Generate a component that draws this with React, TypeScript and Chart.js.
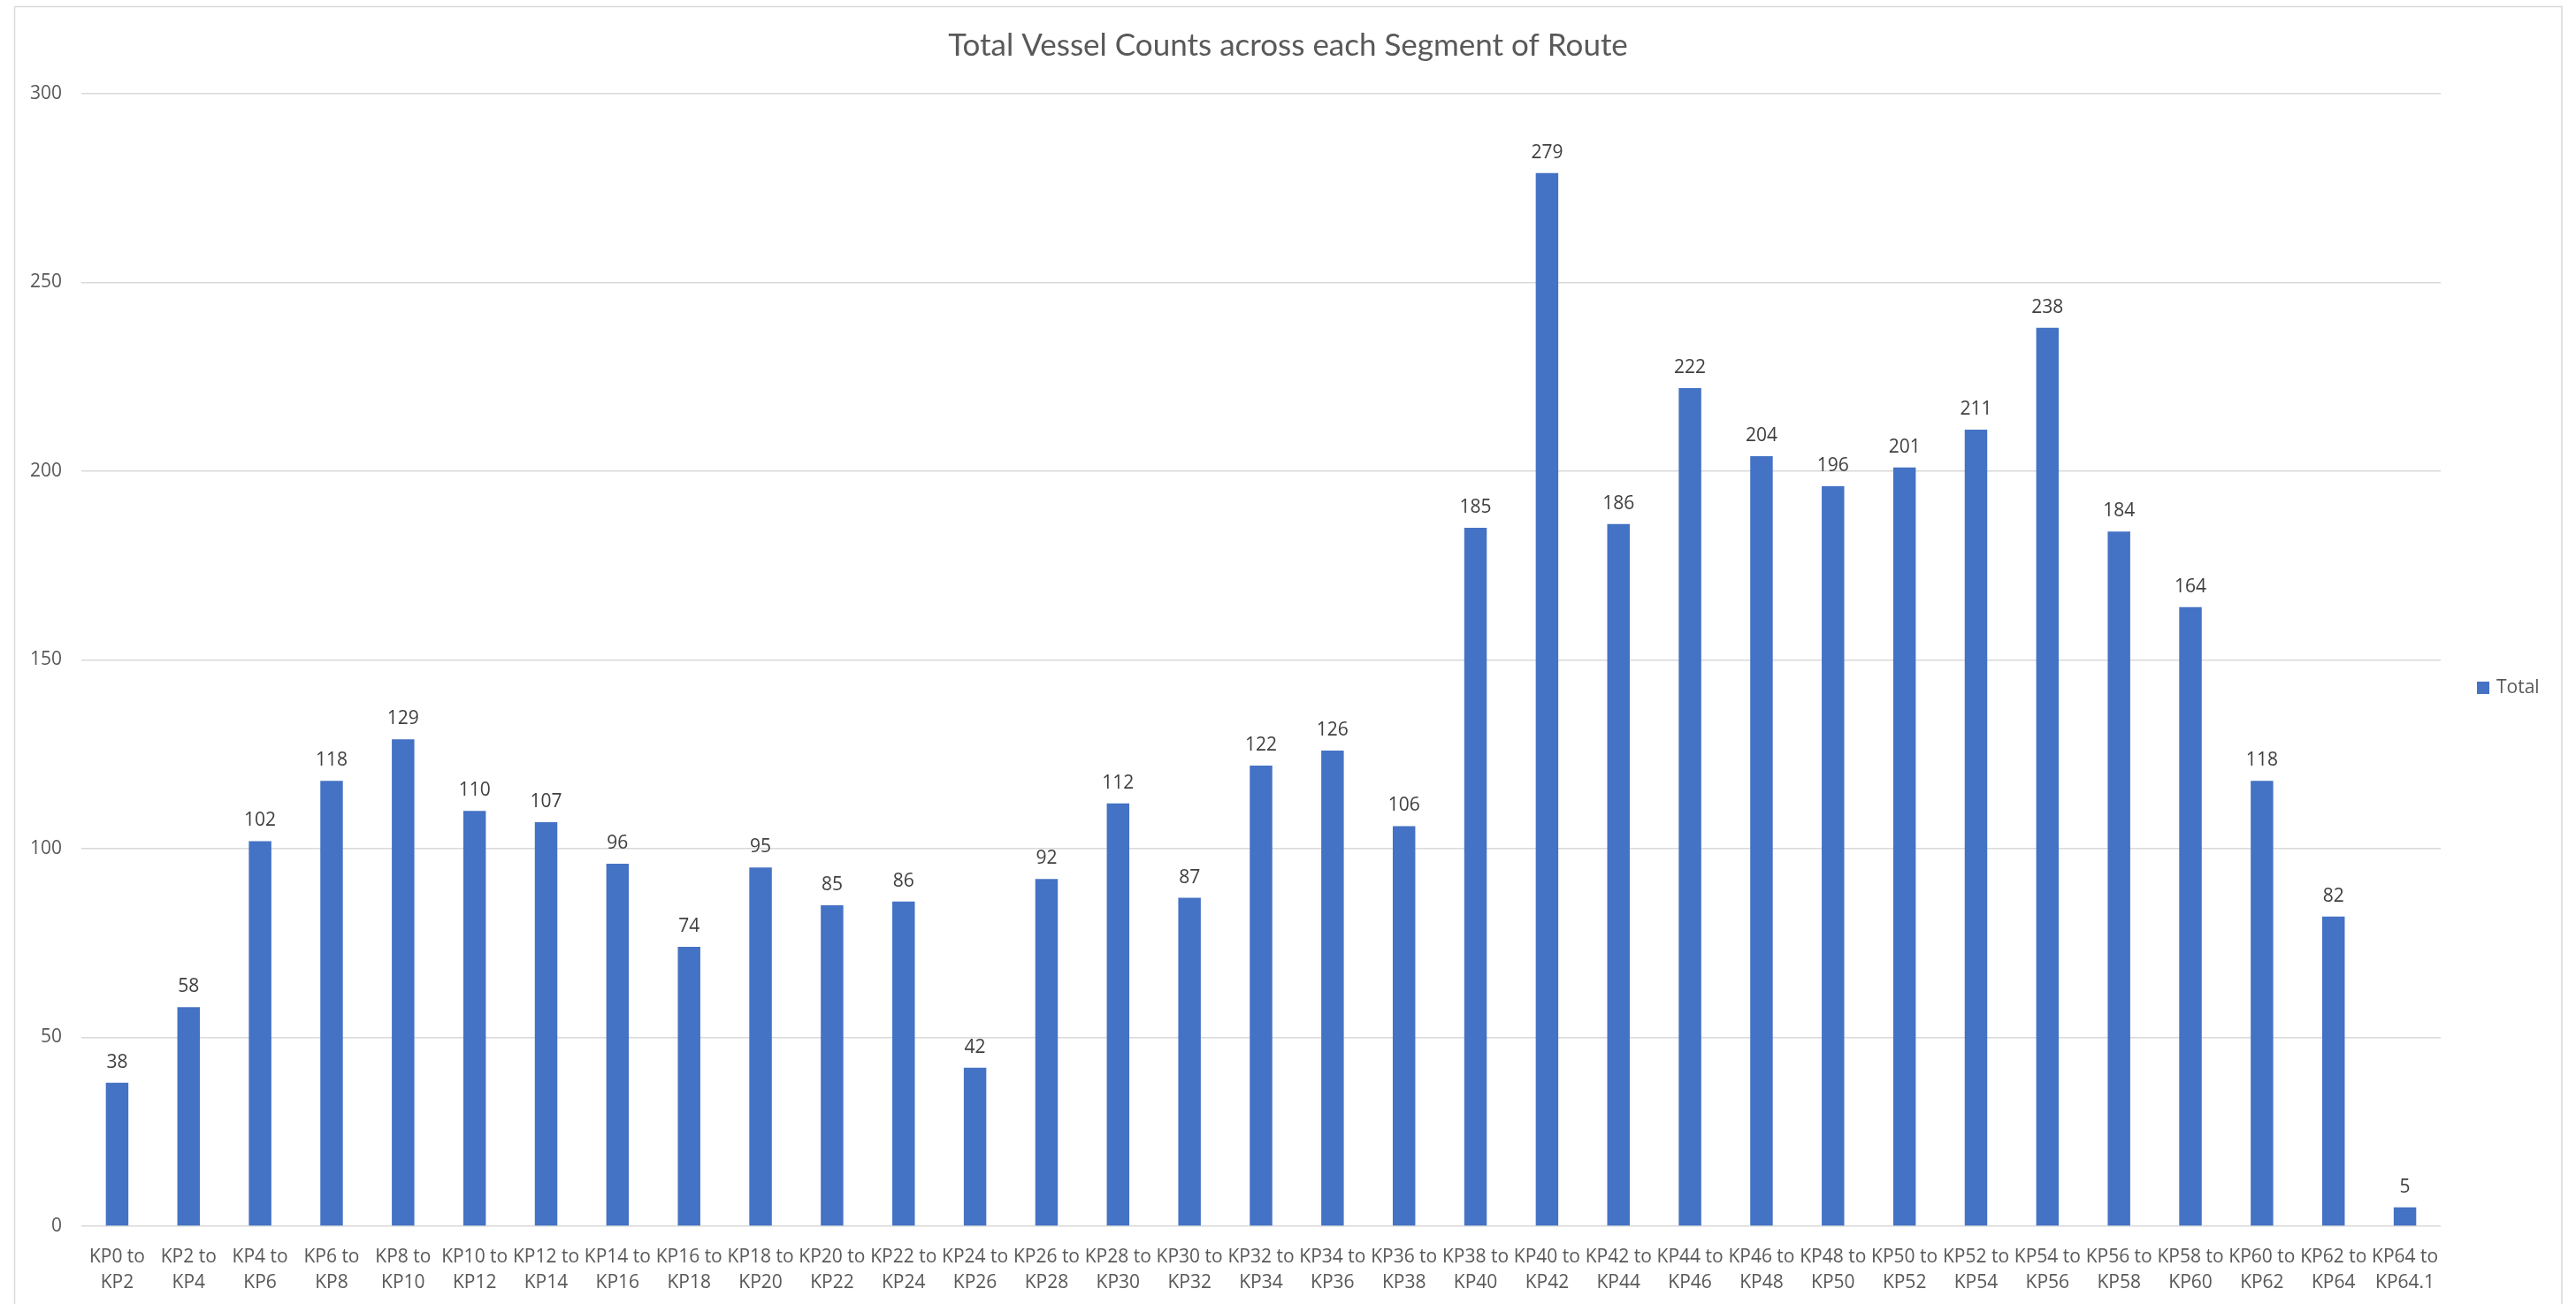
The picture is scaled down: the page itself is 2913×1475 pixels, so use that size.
import React, { useEffect, useRef } from "react";
import { Chart, registerables } from "chart.js";

Chart.register(...registerables);

const chartTitle = "Total Vessel Counts across each Segment of Route";
const seriesName = "Total";

const categories = [
  "KP0 to KP2",
  "KP2 to KP4",
  "KP4 to KP6",
  "KP6 to KP8",
  "KP8 to KP10",
  "KP10 to KP12",
  "KP12 to KP14",
  "KP14 to KP16",
  "KP16 to KP18",
  "KP18 to KP20",
  "KP20 to KP22",
  "KP22 to KP24",
  "KP24 to KP26",
  "KP26 to KP28",
  "KP28 to KP30",
  "KP30 to KP32",
  "KP32 to KP34",
  "KP34 to KP36",
  "KP36 to KP38",
  "KP38 to KP40",
  "KP40 to KP42",
  "KP42 to KP44",
  "KP44 to KP46",
  "KP46 to KP48",
  "KP48 to KP50",
  "KP50 to KP52",
  "KP52 to KP54",
  "KP54 to KP56",
  "KP56 to KP58",
  "KP58 to KP60",
  "KP60 to KP62",
  "KP62 to KP64",
  "KP64 to KP64.1",
];

const totals = [
  38, 58, 102, 118, 129, 110, 107, 96, 74, 95, 85, 86, 42, 92, 112, 87, 122,
  126, 106, 185, 279, 186, 222, 204, 196, 201, 211, 238, 184, 164, 118, 82, 5,
];

const yTicks = [0, 50, 100, 150, 200, 250, 300];

const BAR_COLOR = "#4472C4";
const TEXT_GRAY = "#595959";
const LABEL_GRAY = "#404040";
const GRID_GRAY = "#D9D9D9";
const FONT = "'Open Sans', sans-serif";
const TITLE_FONT = "Lato, 'Open Sans', sans-serif";

const W = 2913;
const H = 1475;

const framePlugin = {
  id: "frame",
  beforeDraw(chart: any) {
    const ctx = chart.ctx;
    ctx.save();
    ctx.fillStyle = "#ffffff";
    ctx.fillRect(0, 0, chart.width, chart.height);
    ctx.strokeStyle = GRID_GRAY;
    ctx.lineWidth = 1.5;
    ctx.strokeRect(16.5, 7.5, 2897 - 16.5, chart.height + 20);
    ctx.restore();
  },
};

const dataLabelPlugin = {
  id: "dataLabels",
  afterDatasetsDraw(chart: any) {
    const ctx = chart.ctx;
    ctx.save();
    ctx.font = `21px ${FONT}`;
    ctx.fillStyle = LABEL_GRAY;
    ctx.textAlign = "center";
    ctx.textBaseline = "alphabetic";
    chart.data.datasets.forEach((ds: any, di: number) => {
      const meta = chart.getDatasetMeta(di);
      meta.data.forEach((bar: any, i: number) => {
        ctx.fillText(String(ds.data[i]), bar.x, bar.y - 17);
      });
    });
    ctx.restore();
  },
};

const legendPlugin = {
  id: "sideLegend",
  afterDraw(chart: any) {
    const ctx = chart.ctx;
    const ds = chart.data.datasets[0];
    ctx.save();
    ctx.fillStyle = ds.backgroundColor;
    ctx.fillRect(2801, 771, 14, 14);
    ctx.font = `21px ${FONT}`;
    ctx.fillStyle = TEXT_GRAY;
    ctx.textAlign = "left";
    ctx.textBaseline = "middle";
    ctx.fillText(ds.label, 2823, 778);
    ctx.restore();
  },
};

export default function App() {
  const canvasRef = useRef<HTMLCanvasElement | null>(null);

  useEffect(() => {
    const canvas = canvasRef.current;
    if (!canvas) return;
    const chart = new Chart(canvas, {
      type: "bar",
      data: {
        labels: categories,
        datasets: [
          {
            label: seriesName,
            data: totals,
            backgroundColor: BAR_COLOR,
            borderWidth: 0,
            barPercentage: 0.315,
            categoryPercentage: 1,
          },
        ],
      },
      options: {
        responsive: false,
        animation: false,
        devicePixelRatio: 1,
        layout: { padding: { left: 0, right: 0, top: 0, bottom: 0 } },
        plugins: {
          legend: { display: false },
          tooltip: { enabled: false },
          title: {
            display: true,
            text: chartTitle,
            color: TEXT_GRAY,
            font: { family: TITLE_FONT, size: 35, weight: "normal", lineHeight: 1.2 },
            padding: { top: 31, bottom: 33 },
          },
        },
        scales: {
          x: {
            grid: { display: false, drawTicks: false },
            border: { display: false },
            ticks: {
              color: TEXT_GRAY,
              font: { family: FONT, size: 21, lineHeight: 1.38 },
              padding: 21,
              maxRotation: 0,
              minRotation: 0,
              autoSkip: false,
              callback: (_v: any, i: number) => {
                const parts = categories[i].split(" to ");
                return [parts[0] + " to", parts[1]];
              },
            },
            afterFit: (scale: any) => {
              scale.height = 88;
            },
          },
          y: {
            min: yTicks[0],
            max: yTicks[yTicks.length - 1],
            grid: { color: GRID_GRAY, lineWidth: 1.5, drawTicks: false },
            border: { display: false },
            ticks: {
              stepSize: yTicks[1] - yTicks[0],
              color: TEXT_GRAY,
              font: { family: FONT, size: 21 },
              padding: 22,
            },
            afterFit: (scale: any) => {
              scale.width = 92;
            },
          },
          legendSpace: {
            type: "linear",
            position: "right",
            display: true,
            grid: { display: false, drawTicks: false },
            border: { display: false },
            ticks: { display: false },
            afterFit: (scale: any) => {
              scale.width = 153;
            },
          },
        },
      },
      plugins: [framePlugin, dataLabelPlugin, legendPlugin],
    });
    return () => chart.destroy();
  }, []);

  return (
    <canvas
      ref={canvasRef}
      width={W}
      height={H}
      style={{ position: "fixed", left: 0, top: 0, width: W, height: H, display: "block" }}
    />
  );
}
